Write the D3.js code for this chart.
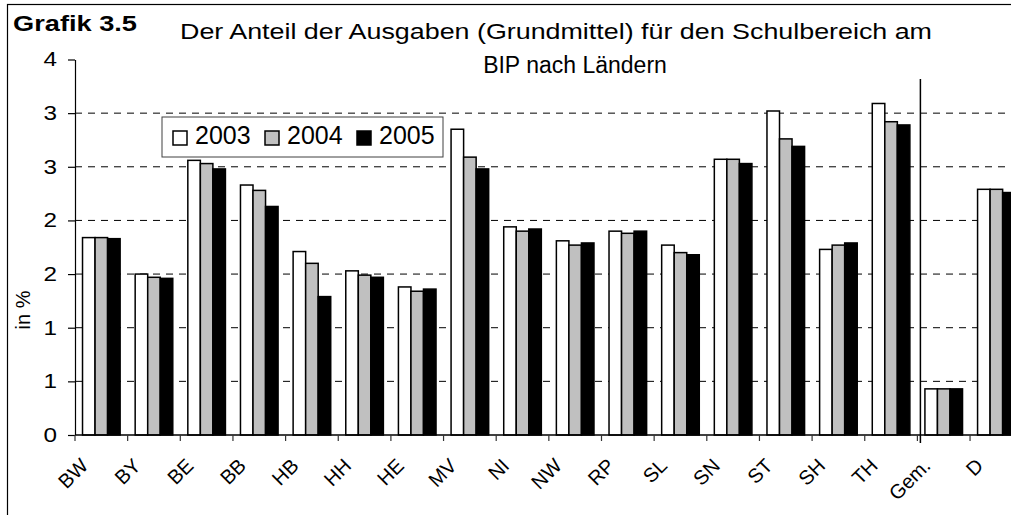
<!DOCTYPE html>
<html lang="de">
<head>
  <meta charset="UTF-8">
  <title>Grafik 3.5</title>
  <script src="https://cdn.jsdelivr.net/npm/d3@7"></script>
  <style>
    body { margin: 0; background: #fff; }
    svg { display: block; font-family: Arial, "Liberation Sans", sans-serif; }
  </style>
</head>
<body>
<div id="chart"></div>
<script>
// Länder, dann Gemeinden und Deutschland insgesamt
const categories = ["BW", "BY", "BE", "BB", "HB", "HH", "HE", "MV", "NI", "NW", "RP", "SL", "SN", "ST", "SH", "TH", "Gem.", "D"];
const years = ["2003", "2004", "2005"];
const values2003 = [1.84, 1.50, 2.56, 2.33, 1.71, 1.53, 1.38, 2.85, 1.94, 1.81, 1.90, 1.77, 2.57, 3.02, 1.73, 3.09, 0.43, 2.29];
const values2004 = [1.84, 1.47, 2.53, 2.28, 1.60, 1.49, 1.34, 2.59, 1.90, 1.77, 1.88, 1.70, 2.57, 2.76, 1.77, 2.92, 0.43, 2.29];
const values2005 = [1.83, 1.46, 2.48, 2.13, 1.29, 1.47, 1.36, 2.48, 1.92, 1.79, 1.90, 1.68, 2.53, 2.69, 1.79, 2.89, 0.43, 2.26];
const yTicks = [0, 0.5, 1, 1.5, 2, 2.5, 3, 3.5];
const yTickLabels = ["0", "1", "1", "2", "2", "3", "3", "4"];
const fills = ["#ffffff", "#c0c0c0", "#000000"];

const series = [values2003, values2004, values2005];
const rows = categories.map((c, i) => ({ cat: c, vals: years.map((yr, j) => ({ year: yr, v: series[j][i], fill: fills[j] })) }));

const width = 1011, height = 515;
const plot = { left: 75, right: 1022.7, top: 59.5, bottom: 435 };

const svg = d3.select("#chart").append("svg")
  .attr("width", width)
  .attr("height", height);

// Rahmen (rechts und unten abgeschnitten)
svg.append("rect")
  .attr("x", 7.5).attr("y", 4.5)
  .attr("width", 1020).attr("height", 530)
  .attr("fill", "#fff").attr("stroke", "#000").attr("stroke-width", 1.2);

const x0 = d3.scaleBand().domain(categories).range([plot.left, plot.right]);
const x1 = d3.scaleBand().domain(years).range([0, x0.bandwidth()]).paddingOuter(0.6);
const y = d3.scaleLinear().domain([0, 3.5]).range([plot.bottom, plot.top]);

// Gitterlinien
svg.append("g")
  .selectAll("line")
  .data(yTicks.filter(d => d > 0 && d < 3.5))
  .join("line")
  .attr("x1", plot.left).attr("x2", plot.right)
  .attr("y1", d => y(d)).attr("y2", d => y(d))
  .attr("stroke", "#000").attr("stroke-width", 1)
  .attr("stroke-dasharray", "7,6");

// Balken
svg.append("g")
  .selectAll("g")
  .data(rows)
  .join("g")
  .attr("transform", d => `translate(${x0(d.cat)},0)`)
  .selectAll("rect")
  .data(d => d.vals)
  .join("rect")
  .attr("x", d => x1(d.year))
  .attr("y", d => y(d.v))
  .attr("width", x1.bandwidth())
  .attr("height", d => y(0) - y(d.v))
  .attr("fill", d => d.fill)
  .attr("stroke", "#000")
  .attr("stroke-width", 1.5);

// y-Achse
const yAxis = d3.axisLeft(y)
  .tickValues(yTicks)
  .tickFormat((d, i) => yTickLabels[i])
  .tickSize(7)
  .tickSizeOuter(0)
  .tickPadding(11);
const yG = svg.append("g")
  .attr("transform", `translate(${plot.left},0)`)
  .call(yAxis);
yG.selectAll("text")
  .attr("font-size", 20)
  .attr("fill", "#000")
  .attr("font-family", "Arial, 'Liberation Sans', sans-serif")
  .attr("textLength", 13.5)
  .attr("lengthAdjust", "spacingAndGlyphs");
yG.selectAll("line, path").attr("stroke", "#000").attr("stroke-width", 1.2);

// x-Achse
svg.append("line")
  .attr("x1", plot.left).attr("x2", plot.right)
  .attr("y1", plot.bottom).attr("y2", plot.bottom)
  .attr("stroke", "#000").attr("stroke-width", 1.5);
svg.append("g")
  .selectAll("line")
  .data(categories)
  .join("line")
  .attr("x1", d => x0(d)).attr("x2", d => x0(d))
  .attr("y1", plot.bottom).attr("y2", plot.bottom + 6)
  .attr("stroke", "#333").attr("stroke-width", 1.2);
svg.append("g")
  .selectAll("text")
  .data(categories)
  .join("text")
  .attr("transform", d => `translate(${x0(d) + x0.bandwidth() / 2 - 12},467) rotate(-45)`)
  .attr("text-anchor", "end")
  .attr("font-size", 20)
  .text(d => d);

// Trennlinie Länder / Gemeinden
svg.append("line")
  .attr("x1", x0("Gem.") + 3).attr("x2", x0("Gem.") + 3)
  .attr("y1", 79).attr("y2", 443)
  .attr("stroke", "#000").attr("stroke-width", 1.5);

svg.append("text")
  .attr("transform", "translate(30,310) rotate(-90)")
  .attr("text-anchor", "middle")
  .attr("font-size", 20)
  .text("in %");

// Titel
svg.append("text")
  .attr("x", 13).attr("y", 31)
  .attr("font-size", 22).attr("font-weight", "bold")
  .attr("textLength", 124).attr("lengthAdjust", "spacingAndGlyphs")
  .text("Grafik 3.5");
svg.append("text")
  .attr("x", 180).attr("y", 39)
  .attr("font-size", 22.5)
  .attr("textLength", 752).attr("lengthAdjust", "spacingAndGlyphs")
  .text("Der Anteil der Ausgaben (Grundmittel) für den Schulbereich am");
svg.append("text")
  .attr("x", 575).attr("y", 73)
  .attr("text-anchor", "middle")
  .attr("font-size", 23)
  .text("BIP nach Ländern");

// Legende
const legend = svg.append("g").attr("transform", "translate(162,117)");
legend.append("rect")
  .attr("width", 281).attr("height", 40)
  .attr("fill", "#fff").attr("stroke", "#404040").attr("stroke-width", 1);
const legendX = d3.scalePoint().domain(years).range([11, 195]);
const item = legend.selectAll("g.item")
  .data(years)
  .join("g")
  .attr("class", "item")
  .attr("transform", d => `translate(${legendX(d)},0)`);
item.append("rect")
  .attr("y", 14).attr("width", 14).attr("height", 14)
  .attr("fill", (d, i) => fills[i])
  .attr("stroke", "#000").attr("stroke-width", 1.5);
item.append("text")
  .attr("x", 22).attr("y", 27)
  .attr("font-size", 25)
  .text(d => d);
</script>
</body>
</html>
